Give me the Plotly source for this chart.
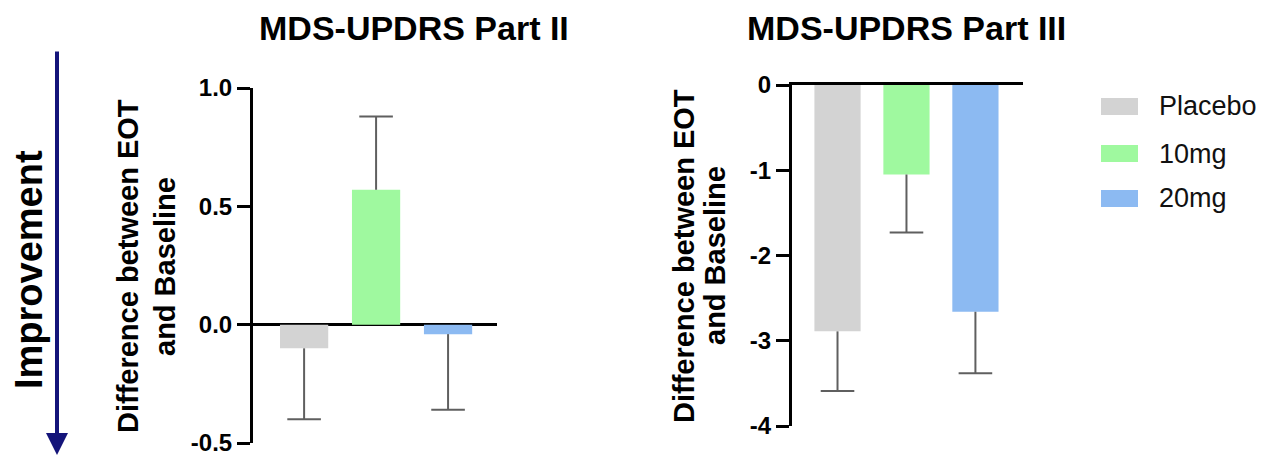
import plotly.graph_objects as go

# ---------------- data ----------------
categories = ["Placebo", "10mg", "20mg"]
colors = ["#d3d3d3", "#9ff99f", "#8cbaf2"]

part2_mean = [-0.10, 0.57, -0.04]
part2_err = [0.30, 0.31, 0.32]

part3_mean = [-2.89, -1.05, -2.66]
part3_err = [0.70, 0.68, 0.72]

part2_ticks = [1.0, 0.5, 0.0, -0.5]
part2_ticktext = ["1.0", "0.5", "0.0", "-0.5"]
part3_ticks = [0, -1, -2, -3, -4]
part3_ticktext = ["0", "-1", "-2", "-3", "-4"]

titles = ["MDS-UPDRS Part II", "MDS-UPDRS Part III"]
ytitle_lines = ["Difference between EOT", "and Baseline"]
side_label = "Improvement"

W, H = 1267, 456
FONT = "Arial, Liberation Sans, sans-serif"
ERR_COLOR = "#5f5f5f"


def px(x):
    return x / W


def py(y):
    return 1 - y / H


fig = go.Figure()


def add_panel(means, errs, xa, ya):
    up = [e if m >= 0 else 0 for m, e in zip(means, errs)]
    down = [e if m < 0 else 0 for m, e in zip(means, errs)]
    for i, cat in enumerate(categories):
        fig.add_trace(go.Bar(
            x=[i], y=[means[i]], name=cat,
            marker=dict(color=colors[i], line=dict(width=0)),
            error_y=dict(type="data", symmetric=False, array=[up[i]],
                         arrayminus=[down[i]], color=ERR_COLOR,
                         thickness=2, width=0),
            xaxis=xa, yaxis=ya, showlegend=False, width=0.67,
        ))
    tips = [m + (e if m >= 0 else -e) for m, e in zip(means, errs)]
    fig.add_trace(go.Scatter(
        x=list(range(len(categories))), y=tips, mode="markers",
        marker=dict(symbol="line-ew", size=24, color=ERR_COLOR,
                    line=dict(color=ERR_COLOR, width=2)),
        xaxis=xa, yaxis=ya, showlegend=False, hoverinfo="skip",
    ))


add_panel(part2_mean, part2_err, "x", "y")
add_panel(part3_mean, part3_err, "x2", "y2")

tickfont = dict(family=FONT, size=24, color="black", weight="bold")

fig.update_layout(
    width=W, height=H,
    margin=dict(l=0, r=0, t=0, b=0, autoexpand=False),
    paper_bgcolor="white", plot_bgcolor="white",
    barmode="overlay",
    xaxis=dict(domain=[px(253), px(497)], range=[-0.71, 2.68],
               automargin=False,
               showgrid=False, zeroline=False, showline=False,
               showticklabels=False, ticks=""),
    yaxis=dict(domain=[py(443), py(88)], range=[-0.5, 1.0],
               automargin=False, ticklabeloverflow="allow",
               showgrid=False, zeroline=True, zerolinecolor="black",
               zerolinewidth=3, showline=True, linecolor="black",
               linewidth=3, ticks="outside", ticklen=13, tickwidth=3,
               tickcolor="black", tickvals=part2_ticks,
               ticktext=part2_ticktext, tickfont=tickfont),
    xaxis2=dict(domain=[px(792), px(1023)], range=[-0.66, 2.69],
                automargin=False,
                anchor="y2", side="top", showgrid=False, zeroline=False,
                showline=True, linecolor="black", linewidth=3,
                showticklabels=False, ticks=""),
    yaxis2=dict(domain=[py(426), py(85)], range=[-4, 0], anchor="x2",
                automargin=False, ticklabeloverflow="allow",
                showgrid=False, zeroline=False, showline=True,
                linecolor="black", linewidth=3, ticks="outside",
                ticklen=13, tickwidth=3, tickcolor="black",
                tickvals=part3_ticks, ticktext=part3_ticktext,
                tickfont=tickfont),
)

# panel titles
for tx, cx in zip(titles, [414, 906]):
    fig.add_annotation(text=tx, x=px(cx), y=py(28), xref="paper",
                       yref="paper", xanchor="center", yanchor="middle",
                       showarrow=False,
                       font=dict(family=FONT, size=34, color="black",
                                 weight="bold"))

# y axis titles (two lines each)
for (x1, x2, cy) in [(128, 165, 266), (684, 715, 256)]:
    for line, lx in zip(ytitle_lines, [x1, x2]):
        fig.add_annotation(text=line, x=px(lx), y=py(cy), xref="paper",
                           yref="paper", xanchor="center",
                           yanchor="middle", textangle=-90,
                           showarrow=False,
                           font=dict(family=FONT, size=29, color="black",
                                     weight="bold"))

# Improvement label and arrow
fig.add_annotation(text=side_label, x=px(29), y=py(270), xref="paper",
                   yref="paper", xanchor="center", yanchor="middle",
                   textangle=-90, showarrow=False,
                   font=dict(family=FONT, size=38, color="black",
                             weight="bold"))
fig.add_annotation(text="", x=px(57), y=py(455), xref="paper",
                   yref="paper", ax=0, ay=-405, showarrow=True,
                   arrowhead=2, arrowsize=1.1, arrowwidth=4,
                   arrowcolor="#14147a", standoff=0)

# legend (manual)
for i, (cat, cy) in enumerate(zip(categories, [106.5, 153.5, 198.5])):
    fig.add_shape(type="rect", xref="paper", yref="paper",
                  x0=px(1101), x1=px(1138), y0=py(cy + 8.5),
                  y1=py(cy - 8.5), fillcolor=colors[i],
                  line=dict(width=0))
    fig.add_annotation(text=cat, x=px(1157), y=py(cy), xref="paper",
                       yref="paper", xanchor="left", yanchor="middle",
                       showarrow=False,
                       font=dict(family=FONT, size=27, color="#111111"))

fig.write_html("out.html", config={"displayModeBar": False},
               post_script="document.body.style.margin='0px';")
